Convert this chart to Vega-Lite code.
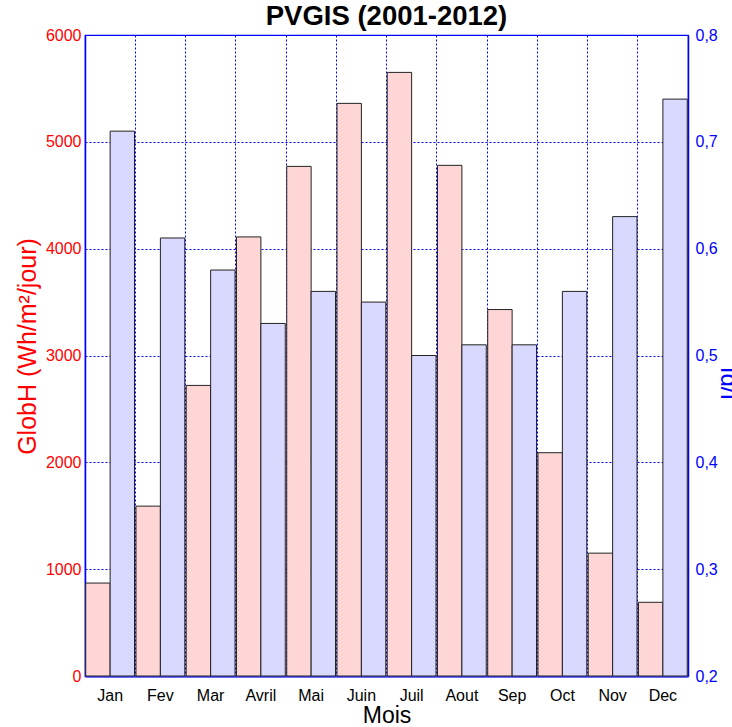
{
  "$schema": "https://vega.github.io/schema/vega-lite/v6.json",
  "autosize": {"type": "none"},
  "width": 603,
  "height": 641,
  "padding": {"left": 85, "top": 35, "right": 44, "bottom": 51},
  "background": "white",
  "title": {"text": "PVGIS (2001-2012)", "font": "Liberation Sans", "fontSize": 27.5, "fontWeight": "bold", "color": "black", "offset": 6, "dy": 9},
  "config": {
    "font": "Liberation Sans",
    "view": {"stroke": "#0000ff", "strokeWidth": 1.2}
  },
  "data": {"values": [
    {"Mois": "Jan", "GlobH": 870, "Ratio": 0.71},
    {"Mois": "Fev", "GlobH": 1590, "Ratio": 0.61},
    {"Mois": "Mar", "GlobH": 2720, "Ratio": 0.58},
    {"Mois": "Avril", "GlobH": 4110, "Ratio": 0.53},
    {"Mois": "Mai", "GlobH": 4770, "Ratio": 0.56},
    {"Mois": "Juin", "GlobH": 5360, "Ratio": 0.55},
    {"Mois": "Juil", "GlobH": 5650, "Ratio": 0.50},
    {"Mois": "Aout", "GlobH": 4780, "Ratio": 0.51},
    {"Mois": "Sep", "GlobH": 3430, "Ratio": 0.51},
    {"Mois": "Oct", "GlobH": 2090, "Ratio": 0.56},
    {"Mois": "Nov", "GlobH": 1150, "Ratio": 0.63},
    {"Mois": "Dec", "GlobH": 690, "Ratio": 0.74}
  ]},
  "encoding": {
    "x": {
      "field": "Mois", "type": "nominal", "sort": null,
      "scale": {"paddingInner": 0, "paddingOuter": 0},
      "axis": {
        "title": "Mois", "titleFontSize": 23, "titleFontWeight": "normal", "titleColor": "black", "titlePadding": 1,
        "labelAngle": 0, "labelFontSize": 16, "labelColor": "black", "labelPadding": 11,
        "ticks": false, "domainColor": "#3a3aff", "domainWidth": 2.5,
        "grid": true, "bandPosition": 0, "gridColor": "#0000ff", "gridDash": [2, 2], "gridWidth": 1, "gridOpacity": 1
      }
    }
  },
  "layer": [
    {
      "mark": {"type": "bar", "fill": "#ffd6d6", "stroke": "#222222", "strokeWidth": 1},
      "encoding": {
        "xOffset": {"datum": "G", "scale": {"domain": ["G", "I"], "paddingOuter": 0.03, "paddingInner": 0}},
        "y": {
          "field": "GlobH", "type": "quantitative",
          "scale": {"domain": [0, 6000], "nice": false},
          "axis": {
            "orient": "left", "values": [0, 1000, 2000, 3000, 4000, 5000, 6000], "format": "d",
            "title": "GlobH (Wh/m²/jour)", "titleFontSize": 25, "titleFontWeight": "normal", "titleColor": "#ff0000", "titlePadding": 5, "titleY": 311,
            "labelFontSize": 16, "labelColor": "#ff0000", "labelPadding": 4,
            "tickSize": 0, "domainColor": "#0000ff", "domainWidth": 1.5,
            "grid": true, "gridColor": "#0000ff", "gridDash": [2, 2], "gridWidth": 1, "gridOpacity": 1
          }
        }
      }
    },
    {
      "mark": {"type": "bar", "fill": "#d9d9ff", "stroke": "#222222", "strokeWidth": 1},
      "encoding": {
        "xOffset": {"datum": "I", "scale": {"domain": ["G", "I"], "paddingOuter": 0.03, "paddingInner": 0}},
        "y": {
          "field": "Ratio", "type": "quantitative",
          "scale": {"domain": [0.2, 0.8], "nice": false, "zero": false},
          "axis": {
            "orient": "right", "values": [0.2, 0.3, 0.4, 0.5, 0.6, 0.7, 0.8],
            "labelExpr": "replace(format(datum.value, '.1f'), '.', ',')",
            "title": "Id/I", "titleAngle": 90, "titleFontSize": 24, "titleFontWeight": "normal", "titleColor": "#0000ff", "titlePadding": -2, "titleY": 348,
            "labelFontSize": 16, "labelColor": "#0000ff", "labelPadding": 7,
            "tickSize": 0, "domainColor": "#0000ff", "domainWidth": 1.5,
            "grid": false
          }
        },
        "y2": {"datum": 0.2}
      }
    }
  ],
  "resolve": {"scale": {"y": "independent"}}
}
